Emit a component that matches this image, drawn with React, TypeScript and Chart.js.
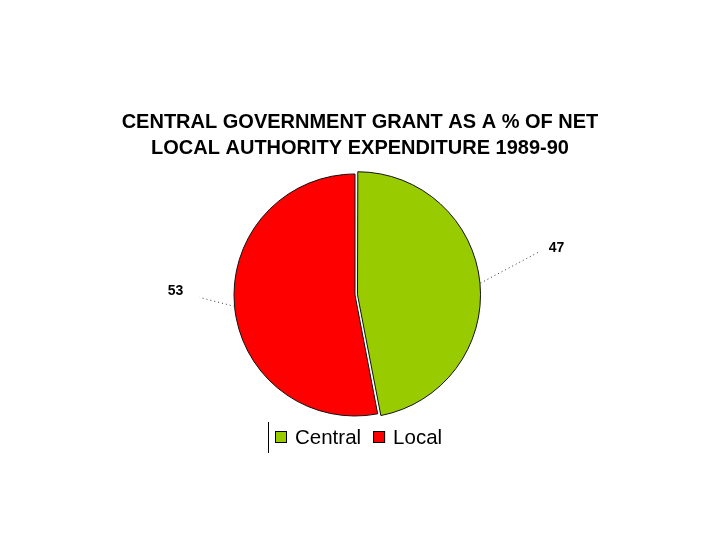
import React, { useEffect, useRef } from "react";
import { Chart, registerables } from "chart.js";

Chart.register(...registerables);

const categories = ["Central", "Local"];
const values = [47, 53];
const colors = ["#99CC00", "#FF0000"];
const titleLines = ["CENTRAL GOVERNMENT GRANT AS A % OF NET", "LOCAL AUTHORITY EXPENDITURE 1989-90"];
const offsets = [10, 0];

const FONT = "'Liberation Sans', Arial, sans-serif";

const overlay = {
  id: "overlay",
  afterDraw(chart: any) {
    const ctx = chart.ctx;
    ctx.save();
    // title
    ctx.fillStyle = "#000";
    ctx.textAlign = "center";
    ctx.textBaseline = "middle";
    ctx.font = `bold 20px ${FONT}`;
    ctx.fillText(titleLines[0], 360, 122);
    ctx.fillText(titleLines[1], 360, 148);

    // labels with dotted leaders
    const meta = chart.getDatasetMeta(0);
    const leader = [
      { dx: 60, dy: -32, tx: 16, ty: -3 },
      { dx: -35, dy: -9, tx: -24, ty: -6 },
    ];
    meta.data.forEach((arc: any, i: number) => {
      const p = arc.getProps(["x", "y", "startAngle", "endAngle", "outerRadius"], true);
      const mid = (p.startAngle + p.endAngle) / 2;
      const off = offsets[i] / 2;
      const sx = p.x + Math.cos(mid) * (p.outerRadius + off);
      const sy = p.y + Math.sin(mid) * (p.outerRadius + off);
      const L = leader[i];
      ctx.strokeStyle = "#333";
      ctx.lineWidth = 1;
      ctx.setLineDash([1, 3]);
      ctx.beginPath();
      ctx.moveTo(sx, sy);
      ctx.lineTo(sx + L.dx, sy + L.dy);
      ctx.stroke();
      ctx.setLineDash([]);
      ctx.font = `bold 14px ${FONT}`;
      ctx.textAlign = "center";
      ctx.fillStyle = "#000";
      ctx.fillText(String(values[i]), sx + L.dx + L.tx, sy + L.dy + L.ty);
    });

    // legend
    ctx.strokeStyle = "#000";
    ctx.lineWidth = 1;
    ctx.beginPath();
    ctx.moveTo(268.5, 422);
    ctx.lineTo(268.5, 453);
    ctx.stroke();
    ctx.font = `20.5px ${FONT}`;
    ctx.textAlign = "left";
    ctx.textBaseline = "middle";
    let x = 275;
    categories.forEach((c, i) => {
      ctx.fillStyle = colors[i];
      ctx.fillRect(x, 431, 12, 12);
      ctx.strokeStyle = "#000";
      ctx.strokeRect(x + 0.5, 431.5, 11, 11);
      ctx.fillStyle = "#000";
      ctx.fillText(c, x + 20, 438);
      x += 20 + ctx.measureText(c).width + 12;
    });
    ctx.restore();
  },
};

export default function App() {
  const ref = useRef<HTMLCanvasElement>(null);
  useEffect(() => {
    document.body.style.margin = "0";
    const chart = new Chart(ref.current!, {
      type: "pie",
      data: {
        labels: categories,
        datasets: [
          {
            data: values,
            backgroundColor: colors,
            borderColor: "#111",
            borderWidth: 1,
            offset: offsets,
            radius: 121,
          } as any,
        ],
      },
      options: {
        animation: false,
        responsive: false,
        layout: { padding: { left: 0, right: 10, top: 60, bottom: 10 } },
        plugins: {
          legend: { display: false },
          title: { display: false },
          tooltip: { enabled: false },
        },
      },
      plugins: [overlay],
    });
    return () => chart.destroy();
  }, []);
  return (
    <div style={{ width: 720, height: 540, background: "#fff" }}>
      <canvas ref={ref} width={720} height={540} />
    </div>
  );
}
